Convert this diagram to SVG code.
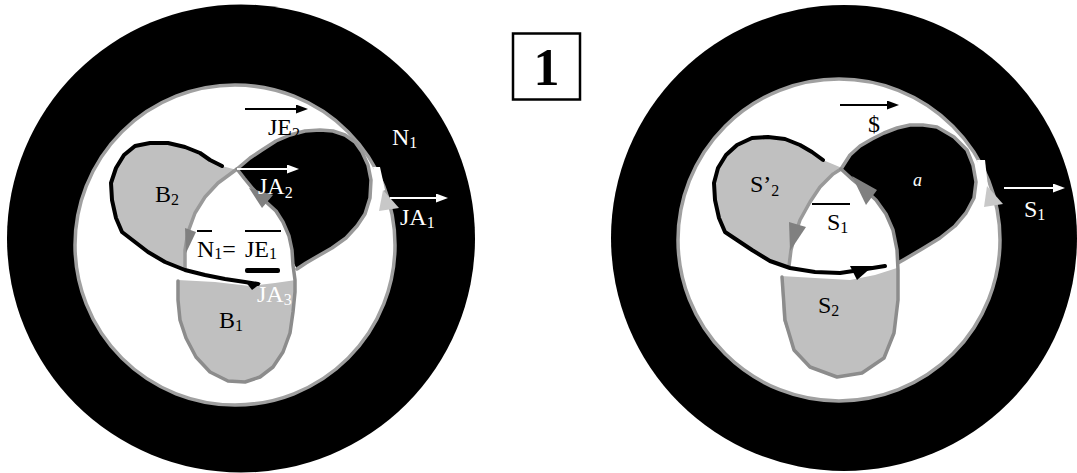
<svg xmlns="http://www.w3.org/2000/svg" width="1077" height="473" viewBox="0 0 1077 473">
<style>
.bg{fill:#fff}
.outer{fill:#000}
.inner{fill:#fff;stroke:#a0a0a0;stroke-width:3.5}
.lg{fill:#c0c0c0}
.blk{fill:#000}
.gs{fill:none;stroke:#999;stroke-width:3.5;stroke-linejoin:round;stroke-linecap:round}
.gs2{fill:none;stroke:#8c8c8c;stroke-width:3.5;stroke-linejoin:round;stroke-linecap:round}
.bs{fill:none;stroke:#000;stroke-width:4;stroke-linejoin:round;stroke-linecap:round}
.dg{fill:#808080}
.lgh{fill:#c8c8c8}
.t{font-family:"Liberation Serif","Times New Roman",serif;font-size:24px}
.s{font-size:16px}
.w{fill:#fff}
.k{fill:#000}
.ol{stroke:#000;stroke-width:2}
.aw{stroke:#fff;stroke-width:2}
.ab{stroke:#000;stroke-width:2}
</style>
<defs>
<marker id="hb" markerUnits="userSpaceOnUse" markerWidth="14" markerHeight="10" refX="1" refY="4.5" orient="auto"><path d="M0,0 L12,4.5 L0,9 z" fill="#000"/></marker>
<marker id="hw" markerUnits="userSpaceOnUse" markerWidth="14" markerHeight="10" refX="1" refY="4.5" orient="auto"><path d="M0,0 L12,4.5 L0,9 z" fill="#fff"/></marker>
</defs>
<rect class="bg" x="0" y="0" width="1077" height="473"/>

<g id="fig-left">
 <circle class="outer" cx="241" cy="238.5" r="234"/>
 <circle class="inner" cx="235" cy="245" r="160"/>
 <g id="B1">
  <path class="lg" d="M178,280 L215,282 L250,286 L275,283 L296,280 L295,292 L293,312 L290,333 L283,352 L273,367 L260,377 L245,382 L228,381 L210,372 L196,357 L186,338 L180,320 L178,300 Z"/>
 </g>
 <g id="B2">
  <path class="lg" d="M222,166 L210,160 L200,153 L185,147 L168,143 L150,143 L135,146 L124,155 L116,168 L111,183 L112,200 L116,218 L122,232 L135,242 L148,252 L165,262 L185,270 L185,250 L188,232 L195,213 L205,197 L218,183 L230,174 L237,170 Z"/>
 </g>
 <g id="N1-region">
  <path class="blk" d="M237,169 L250,158 L262,150 L276,141 L290,135 L305,131 L320,130 L333,131 L345,135 L355,142 L362,152 L368,165 L371,180 L370,198 L365,214 L357,226 L346,238 L332,248 L318,256 L306,263 L297,269 L293,262 L292,250 L289,236 L283,222 L276,211 L265,201 L253,189 L244,178 Z"/>
 </g>
 <path class="gs" d="M185,268 L185,250 L188,232 L195,213 L205,197 L218,183 L237,169 L250,158 L262,150 L276,141 L290,135 L305,131 L320,130 L333,131 L345,135 L355,142 L362,152 L368,165 L371,180 L370,198 L365,214 L357,226 L346,238 L332,248 L318,256 L306,263 L297,269"/>
 <path class="gs2" d="M237,169 L244,178 L253,189 L265,201 L276,211 L283,222 L289,236 L292,250 L293,265 L295,280 L295,292 L293,312 L290,333 L283,352 L273,367 L260,377 L245,382 L228,381 L210,372 L196,357 L186,338 L180,320 L178,300 L178,281"/>
 <path class="bs" d="M222,166 L210,160 L200,153 L185,147 L168,143 L150,143 L135,146 L124,155 L116,168 L111,183 L112,200 L116,218 L122,232 L135,242 L148,252 L165,262 L185,270 L205,275 L225,279 L245,282 L258,284"/>
 <path class="blk" d="M245,281 L261,283 L252,290 Z"/>
 <path class="dg" d="M185,228 L196,232 L186,253 Z"/>
 <path class="dg" d="M249,188 L273,195 L262,208 Z"/>
 <path class="bg" d="M373,167 L380,167 L385,190 L380,193 Z"/>
 <path class="lgh" d="M383,190 L399,208 L379,211 Z"/>
 <rect class="blk" x="245" y="268" width="35" height="5" rx="2"/>
 <line class="ol" x1="197" y1="231" x2="212" y2="231"/>
 <line class="ol" x1="245" y1="231" x2="281" y2="231"/>
 <text class="t k" x="268" y="135">JE<tspan class="s" dy="4">2</tspan></text>
 <text class="t w" x="392" y="145">N<tspan class="s" dy="3">1</tspan></text>
 <text class="t k" x="155" y="202">B<tspan class="s" dy="3">2</tspan></text>
 <text class="t w" x="258" y="194">JA<tspan class="s" dy="4">2</tspan></text>
 <text class="t w" x="400" y="225">JA<tspan class="s" dy="3">1</tspan></text>
 <text class="t k" x="197" y="257">N<tspan class="s" dy="2">1</tspan><tspan dy="-2">=</tspan></text>
 <text class="t k" x="245" y="257">JE<tspan class="s" dy="2">1</tspan></text>
 <text class="t w" x="257" y="302">JA<tspan class="s" dy="3">3</tspan></text>
 <text class="t k" x="219" y="328">B<tspan class="s" dy="3">1</tspan></text>
</g>

<g id="box-1">
 <rect x="513" y="33.5" width="67" height="66" fill="#fff" stroke="#000" stroke-width="2.5"/>
 <text x="546.5" y="85" text-anchor="middle" font-family="'Liberation Serif','Times New Roman',serif" font-weight="bold" font-size="52">1</text>
</g>

<g id="fig-right">
 <circle class="outer" cx="844" cy="238" r="233"/>
 <circle class="inner" cx="839" cy="240" r="161"/>
 <g id="S2">
  <path class="lg" d="M781,276 L815,278 L850,280 L875,275 L897,268 L898,300 L894,333 L884,358 L862,373 L837,377 L810,367 L794,350 L783,320 Z"/>
 </g>
 <g id="S-prime-2">
  <path class="lg" d="M823,160 L812,152 L800,145 L785,139 L768,137 L752,138 L737,145 L726,155 L718,168 L714,183 L715,200 L719,218 L725,232 L737,240 L752,250 L770,261 L789,267 L791,250 L795,235 L800,220 L810,202 L820,187 L833,172 L842,168 Z"/>
 </g>
 <g id="a-region">
  <path class="blk" d="M841,169 L850,155 L860,146 L872,139 L884,133 L897,128 L910,125 L923,125 L937,127 L954,137 L967,150 L973,165 L976,182 L974,198 L966,213 L955,226 L940,238 L922,249 L905,259 L898,263 L896,250 L893,230 L886,214 L876,200 L865,190 L853,180 Z"/>
 </g>
 <path class="gs" d="M789,266 L791,250 L795,235 L800,220 L810,202 L820,187 L833,174 L841,169 L850,155 L860,146 L872,139 L884,133 L897,128 L910,125 L923,125 L937,127 L954,137 L967,150 L973,165 L976,182 L974,198 L966,213 L955,226 L940,238 L922,249 L905,259 L898,263"/>
 <path class="gs2" d="M841,169 L853,180 L865,190 L876,200 L886,214 L893,230 L897,250 L898,270 L898,300 L894,333 L884,358 L862,373 L837,377 L810,367 L794,350 L785,320 L782,277"/>
 <path class="bs" d="M823,160 L812,152 L800,145 L785,139 L768,137 L752,138 L737,145 L726,155 L718,168 L714,183 L715,200 L719,218 L725,232 L737,240 L752,250 L770,261 L790,268 L815,272 L840,273 L860,270 L885,266"/>
 <path class="blk" d="M850,266 L873,266 L857,280 Z"/>
 <path class="dg" d="M789,222 L806,227 L790,251 Z"/>
 <path class="dg" d="M852,176 L877,190 L866,205 Z"/>
 <path class="bg" d="M977,160 L985,160 L988,187 L982,190 Z"/>
 <path class="lgh" d="M987,186 L1003,204 L984,207 Z"/>
 <line class="ol" x1="812" y1="204" x2="850" y2="204"/>
 <text class="t k" x="868" y="132">$</text>
 <text x="913" y="186" font-family="'Liberation Serif','Times New Roman',serif" font-style="italic" font-size="18" fill="#fff">a</text>
 <text class="t k" x="750" y="192">S’<tspan class="s" dy="4">2</tspan></text>
 <text class="t k" x="827" y="230">S<tspan class="s" dy="3">1</tspan></text>
 <text class="t k" x="818" y="313">S<tspan class="s" dy="3">2</tspan></text>
 <text class="t w" x="1024" y="217">S<tspan class="s" dy="3">1</tspan></text>
</g>

<g id="connectors">
 <line class="ab" x1="245" y1="109" x2="297" y2="109" marker-end="url(#hb)"/>
 <line class="aw" x1="237" y1="169" x2="288" y2="169" marker-end="url(#hw)"/>
 <line class="aw" x1="390" y1="198" x2="437" y2="198" marker-end="url(#hw)"/>
 <line class="ab" x1="840" y1="105" x2="888" y2="105" marker-end="url(#hb)"/>
 <line class="aw" x1="1004" y1="188" x2="1054" y2="188" marker-end="url(#hw)"/>
</g>
</svg>
